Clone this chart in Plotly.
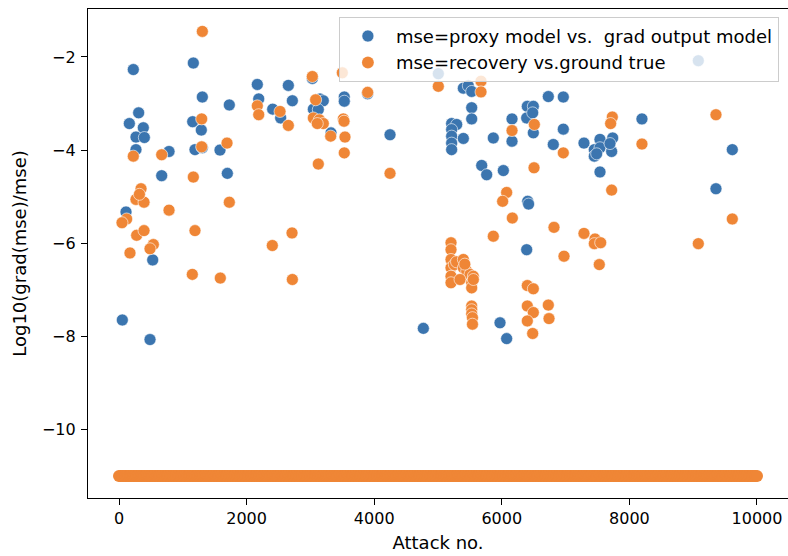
import plotly.graph_objects as go

# ---------------- data ----------------
proxy_attack = [52, 486, 110, 528, 224, 308, 162, 381, 266, 397, 266, 784, 669,
                1165, 1306, 1155, 1290, 1191, 1306, 1583, 1698, 1729, 2168, 2190,
                2409, 2534, 2654, 2717, 3030, 3150, 3202, 3046, 3124, 3323, 3531,
                3531, 3897, 4248, 4770, 5005, 5397, 5475, 5528, 5528, 5528, 5214,
                5293, 5214, 5214, 5397, 5214, 5214, 5867, 5685, 5763, 6024, 6160,
                6160, 6400, 6494, 6390, 6484, 6494, 6729, 6964, 6964, 6807, 6406,
                6420, 6390, 5972, 6076, 7288, 7539, 7738, 7450, 7450, 7539, 7722,
                7696, 7487, 7539, 8197, 9613, 9357, 9080]
proxy_log = [-7.65, -8.07, -5.33, -6.36, -2.27, -3.20, -3.43, -3.52, -3.72, -3.73,
             -3.99, -4.03, -4.55, -2.13, -2.86, -3.39, -3.57, -3.99, -3.95, -4.00,
             -4.50, -3.03, -2.59, -2.90, -3.12, -3.31, -2.61, -2.94, -2.46, -2.90,
             -2.94, -3.12, -3.13, -3.63, -2.86, -2.95, -2.79, -3.67, -7.83, -2.36,
             -2.67, -2.62, -2.74, -3.09, -3.33, -3.43, -3.45, -3.56, -3.70, -3.75,
             -3.85, -3.99, -3.74, -4.33, -4.53, -4.44, -3.33, -3.81, -3.06, -3.06,
             -3.31, -3.20, -3.63, -2.85, -2.86, -3.55, -3.88, -5.10, -5.16, -6.14,
             -7.71, -8.05, -3.85, -3.77, -3.74, -3.99, -4.13, -3.95, -4.03, -3.86,
             -4.08, -4.47, -3.33, -3.99, -4.83, -2.08]

recovery_attack = [1306, 224, 669, 1296, 1296, 1693, 1165, 2168, 2190, 345, 266, 392,
                   320, 784, 1729, 120, 47, 277, 392, 1191, 538, 486, 172, 1149, 1588,
                   2524, 2654, 3030, 3082, 3046, 3140, 3202, 3108, 3318, 3516, 3527,
                   3542, 3531, 3500, 3897, 3124, 4248, 2712, 2403, 2717, 5005, 5674,
                   5674, 6160, 6510, 6964, 6505, 6076, 6013, 6165, 6818, 5867, 6975,
                   5204, 5204, 5204, 5204, 5204, 5204, 5256, 5290, 5397, 5397, 5450,
                   5502, 5554, 5528, 5528, 5554, 5345, 5420,
                   5528, 5528, 5528, 5540, 5540,
                   6400, 6494, 6400, 6494, 6400, 6484, 6729, 6740,
                   7732, 7706, 8197, 9357, 7722, 7288, 7461, 7450, 7550, 7528, 9080, 9613]
recovery_log = [-1.45, -4.13, -4.10, -3.33, -3.93, -3.85, -4.58, -3.05, -3.24, -4.83,
                -5.06, -5.12, -4.95, -5.29, -5.12, -5.48, -5.56, -5.83, -5.73, -5.73,
                -6.03, -6.12, -6.21, -6.67, -6.75, -3.17, -3.47, -2.42, -2.92, -3.31,
                -3.35, -3.43, -3.43, -3.70, -3.33, -3.38, -3.72, -4.06, -2.34, -2.76,
                -4.30, -4.50, -5.78, -6.05, -6.78, -2.63, -2.52, -2.75, -3.58, -3.45,
                -4.06, -4.38, -4.91, -5.10, -5.46, -5.66, -5.85, -6.28,
                -5.99, -6.14, -6.35, -6.53, -6.71, -6.85, -6.46, -6.40, -6.35, -6.53,
                -6.60, -6.67, -6.71, -6.85, -6.96, -6.78, -6.78, -6.45,
                -7.35, -7.43, -7.52, -7.60, -7.74,
                -6.91, -6.98, -7.35, -7.49, -7.67, -7.94, -7.33, -7.62,
                -3.29, -3.43, -3.87, -3.24, -4.86, -5.79, -5.91, -6.01, -5.99, -6.46,
                -6.01, -5.48]

# attacks whose recovery mse hit the floor value (continuous band 0..10000)
floor_attack = list(range(0, 10001, 25))
floor_log = [-11.0] * len(floor_attack)

x_tick_vals = [0, 2000, 4000, 6000, 8000, 10000]
x_tick_text = ["0", "2000", "4000", "6000", "8000", "10000"]
y_tick_vals = [-10, -8, -6, -4, -2]
y_tick_text = ["\u221210", "\u22128", "\u22126", "\u22124", "\u22122"]

BLUE = "#3b75af"
ORANGE = "#ef8636"
FONT = "DejaVu Sans"

orange_edge = [0.6] * len(recovery_attack) + [0] * len(floor_attack)

fig = go.Figure()
fig.add_trace(go.Scatter(x=proxy_attack, y=proxy_log, mode="markers",
                         name="mse=proxy model vs.  grad output model",
                         marker=dict(color=BLUE, size=12,
                                     line=dict(color="white", width=0.6))))
fig.add_trace(go.Scatter(x=recovery_attack + floor_attack,
                         y=recovery_log + floor_log, mode="markers",
                         name="mse=recovery vs.ground true",
                         marker=dict(color=ORANGE, size=12,
                                     line=dict(color="white", width=orange_edge))))

fig.update_layout(
    width=788, height=556,
    margin=dict(l=88, r=0, t=9, b=58),
    paper_bgcolor="white", plot_bgcolor="white",
    font=dict(family=FONT, size=16, color="black"),
    showlegend=True,
    legend=dict(x=0.987, y=0.984, xanchor="right", yanchor="top",
                bgcolor="rgba(255,255,255,0.8)", bordercolor="#cccccc",
                borderwidth=1, font=dict(size=18, family=FONT),
                itemwidth=46),
)
fig.update_xaxes(range=[-486, 10486], tickvals=x_tick_vals, ticktext=x_tick_text,
                 showgrid=False, zeroline=False, showline=True, linecolor="black",
                 linewidth=1.2, mirror=True, ticks="outside", ticklen=6,
                 tickwidth=1.2, tickcolor="black",
                 tickfont=dict(size=16, family=FONT),
                 title=dict(text="Attack no.", font=dict(size=18, family=FONT),
                            standoff=9),
                 automargin=False)
fig.update_yaxes(range=[-11.474, -0.969], tickvals=y_tick_vals, ticktext=y_tick_text,
                 showgrid=False, zeroline=False, showline=True, linecolor="black",
                 linewidth=1.2, mirror=False, ticks="outside", ticklen=6,
                 tickwidth=1.2, tickcolor="black", ticklabelstandoff=2,
                 tickfont=dict(size=16, family=FONT),
                 title=dict(text="Log10(grad(mse)/mse)",
                            font=dict(size=18, family=FONT), standoff=10),
                 automargin=False)

fig.write_html("out.html", config={"displayModeBar": False},
               post_script="document.body.style.margin='0';document.body.style.padding='0';")
